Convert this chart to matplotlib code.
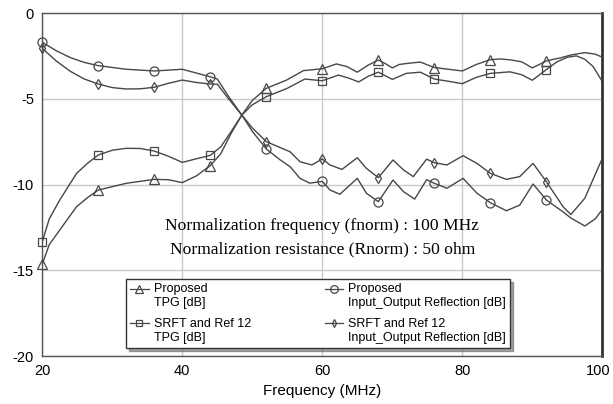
import numpy as np
import matplotlib.pyplot as plt
import matplotlib.transforms as mtransforms
from matplotlib.lines import Line2D
from matplotlib.legend_handler import HandlerLine2D

plt.rcParams['axes.unicode_minus'] = False

# frequencies where the markers sit
marker_f = [20, 28, 36, 44, 52, 60, 68, 76, 84, 92]

# Proposed TPG [dB]
f_prop_tpg = [20, 21, 22.5, 24.9, 26.5, 28, 32, 36, 38, 40, 42, 44, 45.5, 47, 48.5, 50, 52,
              54.9, 57.3, 60, 62, 63.5, 65, 66.5, 68, 69, 70, 71, 72.3, 74, 76, 78, 80,
              82, 84, 85.5, 87, 88.5, 90, 91, 92, 93, 94, 95.5, 97.5, 99, 100]
prop_tpg = [-14.64, -13.5, -12.65, -11.29, -10.75, -10.32, -9.93, -9.7, -9.72, -9.89, -9.5,
            -8.9, -8.2, -7.0, -5.95, -5.1, -4.39, -3.91, -3.36, -3.25, -2.97, -3.12, -3.45,
            -3.05, -2.74, -2.95, -3.2, -3.0, -2.93, -2.86, -3.18, -3.28, -3.38, -3.0, -2.72,
            -2.68, -2.74, -2.85, -3.2, -3.0, -2.8, -2.7, -2.62, -2.45, -2.31, -2.4, -2.58]

# SRFT and Ref 12 TPG [dB]
f_srft_tpg = [20, 21, 22.5, 24.9, 26.5, 28, 30, 32, 34, 36, 38, 40, 42, 44, 45.5, 47, 48.5,
              50, 52, 55, 57.5, 60, 62.3, 63.8, 65.2, 66.5, 68, 70, 72, 74, 76, 78, 80, 82,
              84, 86.8, 88.5, 90, 92, 93.5, 95, 96.3, 97.5, 98.7, 100]
srft_tpg = [-13.33, -12.0, -10.9, -9.35, -8.75, -8.28, -8.0, -7.89, -7.9, -8.05, -8.35, -8.71,
            -8.5, -8.3, -7.8, -6.9, -5.95, -5.35, -4.88, -4.39, -3.85, -3.95, -3.62, -3.8,
            -4.02, -3.7, -3.45, -3.87, -3.52, -3.45, -3.85, -3.98, -4.12, -3.75, -3.52,
            -3.43, -3.6, -3.92, -3.3, -2.85, -2.58, -2.5, -2.7, -3.13, -4.0]

# Proposed Input_Output Reflection [dB]
f_prop_refl = [20, 22, 24, 26, 28, 32, 36, 38, 40, 42, 44, 45, 46.5, 48.5, 50, 52, 54, 55.4,
               56.8, 58.2, 60, 61.1, 62.5, 65, 66.3, 68, 70.1, 71.6, 73.2, 74.9, 76, 77.8,
               80.1, 82.1, 84, 86.3, 88.2, 90.1, 92, 94.4, 95.5, 97.5, 99, 100]
prop_refl = [-1.71, -2.2, -2.6, -2.88, -3.07, -3.28, -3.38, -3.33, -3.28, -3.5, -3.72, -3.85,
             -4.8, -5.95, -6.9, -7.93, -8.57, -8.96, -9.64, -9.92, -9.82, -10.32, -10.57,
             -9.64, -10.51, -11.0, -9.74, -10.42, -10.85, -9.72, -9.93, -10.22, -9.64,
             -10.51, -11.06, -11.53, -11.2, -9.97, -10.9, -11.6, -11.95, -12.42, -12.0, -11.45]

# SRFT and Ref 12 Input_Output Reflection [dB]
f_srft_refl = [20, 22, 24, 26, 28, 30, 32, 34, 36, 38, 40, 42, 44, 45, 46.5, 48.5, 50, 52, 54,
               55.4, 56.8, 58.5, 60, 61.1, 62.8, 65, 66.3, 68, 70.1, 71.6, 73, 74.9, 76, 77.8,
               80.1, 82.1, 84, 86.3, 88.2, 90.1, 92, 94.4, 95.5, 97.5, 99, 100]
srft_refl = [-2.06, -2.8, -3.4, -3.85, -4.14, -4.35, -4.43, -4.42, -4.33, -4.1, -3.91, -4.05,
             -4.14, -4.15, -4.95, -5.95, -6.7, -7.5, -7.85, -8.09, -8.67, -8.86, -8.51,
             -8.86, -9.12, -8.44, -9.06, -9.6, -8.57, -9.15, -9.54, -8.52, -8.73, -8.86,
             -8.32, -8.77, -9.35, -9.7, -9.54, -8.77, -9.83, -11.3, -11.75, -10.8, -9.4, -8.47]

labels = ['Proposed\nTPG [dB]', 'SRFT and Ref 12\nTPG [dB]',
          'Proposed\nInput_Output Reflection [dB]', 'SRFT and Ref 12\nInput_Output Reflection [dB]']

lc = '#474747'
series = [
    (f_prop_tpg, prop_tpg, '^', 6.5),
    (f_srft_tpg, srft_tpg, 's', 6.0),
    (f_prop_refl, prop_refl, 'o', 6.5),
    (f_srft_refl, srft_refl, 'd', 5.0),
]


# legend handle drawn next to the first line of a two-line label
class UpHandler(HandlerLine2D):
    def create_artists(self, legend, orig_handle, xdescent, ydescent, width, height,
                       fontsize, trans):
        arts = super().create_artists(legend, orig_handle, xdescent, ydescent, width,
                                      height, fontsize, trans)
        for a in arts:
            a.set_ydata(np.asarray(a.get_ydata()) + fontsize * 0.6)
        return arts


fig = plt.figure(figsize=(6.13, 4.04), dpi=100)
ax = fig.add_axes([0.069, 0.1188, 0.9136, 0.849])

handles = []
for fx, fy, mk, ms in series:
    fx = np.array(fx)
    fy = np.array(fy)
    ax.plot(fx, fy, color=lc, lw=1.0, zorder=3)
    sel = np.isin(fx, marker_f)
    ax.plot(fx[sel], fy[sel], ls='none', marker=mk, ms=ms, mfc='none', mec=lc, mew=0.9,
            zorder=4, clip_on=False)
    handles.append(Line2D([], [], color=lc, lw=0.9, marker=mk, ms=ms - 1, mfc='none',
                          mec=lc, mew=0.9))

ax.set_xlim(20, 100)
ax.set_ylim(-20, 0)
ax.set_xticks([20, 40, 60, 80, 100])
ax.set_yticks([0, -5, -10, -15, -20])
ax.grid(True, color='#c8c8c8', lw=1.0)
ax.set_axisbelow(True)
ax.tick_params(length=0, labelsize=10.5, pad=6)
for s in ax.spines.values():
    s.set_color('#555555')
    s.set_linewidth(1.0)
ax.spines['right'].set_linewidth(2.0)
ax.spines['right'].set_color('#333333')

for t in ax.get_xticklabels() + ax.get_yticklabels():
    t.set_family('Liberation Sans')
# pull the last x label a little in so it stays inside the figure
last = ax.get_xticklabels()[-1]
last.set_transform(last.get_transform() +
                   mtransforms.ScaledTranslation(-4 / 100, 0, fig.dpi_scale_trans))
ax.set_xlabel('Frequency (MHz)', family='Liberation Sans', fontsize=11, labelpad=4)

ax.text(0.5, 0.379, 'Normalization frequency (fnorm) : 100 MHz', transform=ax.transAxes,
        ha='center', va='center', family='Liberation Serif', fontsize=12.6)
ax.text(0.5, 0.312, 'Normalization resistance (Rnorm) : 50 ohm', transform=ax.transAxes,
        ha='center', va='center', family='Liberation Serif', fontsize=12.6)

leg = ax.legend(handles, labels, ncol=2, loc='lower left',
                bbox_to_anchor=(0.149, 0.023, 0.687, 0.225), mode='expand',
                borderaxespad=0, prop={'family': 'Liberation Sans', 'size': 9},
                handlelength=1.5, handletextpad=0.4, borderpad=0.35, labelspacing=0.7,
                fancybox=False, shadow=True, framealpha=1, edgecolor='#333333',
                handler_map={Line2D: UpHandler()})
leg.get_frame().set_linewidth(1.0)

fig.savefig('out.png', dpi=100)
